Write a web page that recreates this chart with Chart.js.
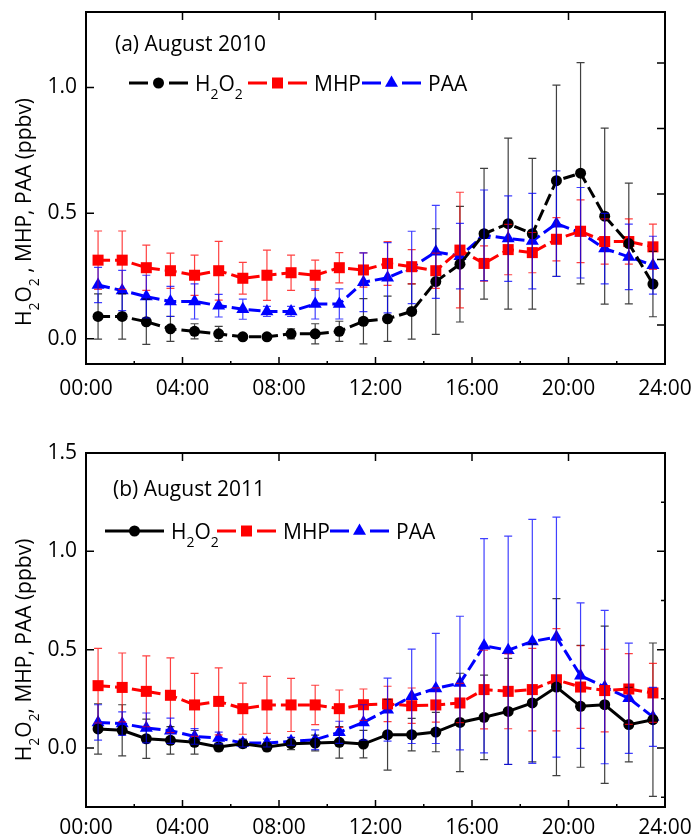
<!DOCTYPE html>
<html lang="en">
<head>
  <meta charset="utf-8">
  <title>H2O2, MHP, PAA diurnal</title>
  <style>
    body { margin: 0; background: #fff; }
    canvas { display: block; }
  </style>
</head>
<body>
<canvas id="chartA" width="695" height="410"></canvas>
<canvas id="chartB" width="695" height="429"></canvas>
<script src="https://cdn.jsdelivr.net/npm/chart.js"></script>
<script>

   // hour of day (bin centres)
   var hours = [0.5, 1.5, 2.5, 3.5, 4.5, 5.5, 6.5, 7.5, 8.5, 9.5, 10.5, 11.5,
                12.5, 13.5, 14.5, 15.5, 16.5, 17.5, 18.5, 19.5, 20.5, 21.5, 22.5, 23.5];

   // (a) August 2010
   var h2o2A    = [0.089, 0.089, 0.068, 0.040, 0.030, 0.020, 0.008, 0.008, 0.020, 0.020, 0.030, 0.070,
                   0.080, 0.109, 0.228, 0.297, 0.418, 0.458, 0.418, 0.629, 0.659, 0.488, 0.379, 0.218];
   var h2o2ErrA = [0.09, 0.09, 0.09, 0.05, 0.03, 0.03, 0.01, 0.01, 0.02, 0.04, 0.04, 0.09,
                   0.09, 0.11, 0.21, 0.23, 0.26, 0.34, 0.30, 0.38, 0.44, 0.35, 0.24, 0.13];
   var mhpA     = [0.313, 0.313, 0.283, 0.271, 0.253, 0.271, 0.241, 0.253, 0.263, 0.253, 0.283, 0.274,
                   0.300, 0.287, 0.271, 0.353, 0.300, 0.355, 0.343, 0.396, 0.428, 0.387, 0.387, 0.366];
   var mhpErrA  = [0.116, 0.116, 0.09, 0.07, 0.08, 0.117, 0.063, 0.10, 0.07, 0.06, 0.06, 0.068,
                   0.087, 0.068, 0.07, 0.23, 0.07, 0.10, 0.08, 0.086, 0.125, 0.09, 0.09, 0.09];
   var paaA     = [0.214, 0.192, 0.168, 0.149, 0.149, 0.132, 0.118, 0.109, 0.109, 0.139, 0.139, 0.225,
                   0.243, 0.284, 0.346, 0.329, 0.412, 0.399, 0.389, 0.458, 0.422, 0.359, 0.326, 0.293];
   var paaErrA  = [0.07, 0.08, 0.085, 0.06, 0.07, 0.045, 0.04, 0.02, 0.02, 0.06, 0.06, 0.117,
                   0.14, 0.144, 0.185, 0.13, 0.18, 0.17, 0.19, 0.21, 0.18, 0.14, 0.13, 0.115];

   // (b) August 2011
   var h2o2B    = [0.097, 0.090, 0.047, 0.039, 0.029, 0.005, 0.022, 0.005, 0.022, 0.025, 0.029, 0.020,
                   0.068, 0.068, 0.081, 0.130, 0.156, 0.186, 0.229, 0.310, 0.212, 0.220, 0.119, 0.144];
   var h2o2ErrB = [0.128, 0.13, 0.10, 0.07, 0.06, 0.02, 0.02, 0.02, 0.03, 0.04, 0.08, 0.07,
                   0.18, 0.083, 0.10, 0.25, 0.215, 0.27, 0.30, 0.45, 0.31, 0.40, 0.19, 0.39];
   var mhpB     = [0.317, 0.308, 0.288, 0.268, 0.219, 0.237, 0.200, 0.219, 0.219, 0.219, 0.200, 0.220,
                   0.224, 0.215, 0.219, 0.229, 0.297, 0.288, 0.297, 0.347, 0.310, 0.292, 0.300, 0.280];
   var mhpErrB  = [0.19, 0.175, 0.18, 0.19, 0.16, 0.17, 0.13, 0.145, 0.135, 0.10, 0.095, 0.08,
                   0.09, 0.09, 0.087, 0.10, 0.20, 0.19, 0.21, 0.26, 0.21, 0.21, 0.18, 0.15];
   var paaB     = [0.130, 0.124, 0.102, 0.088, 0.059, 0.051, 0.025, 0.025, 0.034, 0.042, 0.080, 0.130,
                   0.195, 0.263, 0.303, 0.330, 0.520, 0.497, 0.542, 0.564, 0.368, 0.310, 0.253, 0.158];
   var paaErrB  = [0.09, 0.06, 0.076, 0.064, 0.04, 0.03, 0.02, 0.02, 0.02, 0.05, 0.056, 0.09,
                   0.16, 0.24, 0.28, 0.34, 0.545, 0.58, 0.62, 0.61, 0.37, 0.39, 0.28, 0.15];

   var FONT = '"Open Sans", "DejaVu Sans", sans-serif';

   function pts(vals){
      return hours.map(function(h, i){ return {x: h, y: vals[i]}; });
   }

   // draws text with chemical subscripts, parts = [[text, isSub], ...]
   function chemWidth(ctx, parts, size){
      var w = 0;
      parts.forEach(function(p){
         ctx.font = (p[1] ? Math.round(size * 0.66) : size) + 'px ' + FONT;
         w += ctx.measureText(p[0]).width;
      });
      return w;
   }
   function drawChem(ctx, parts, x, y, size){
      ctx.textAlign = 'left';
      ctx.textBaseline = 'alphabetic';
      var base = y + size * 0.36;
      parts.forEach(function(p){
         ctx.font = (p[1] ? Math.round(size * 0.66) : size) + 'px ' + FONT;
         ctx.fillText(p[0], x, p[1] ? base + size * 0.42 : base);
         x += ctx.measureText(p[0]).width;
      });
   }

   function drawMarker(ctx, style, x, y, color){
      ctx.fillStyle = color;
      ctx.beginPath();
      if (style == 'circle') {
         ctx.arc(x, y, 5.5, 0, Math.PI * 2);
      } else if (style == 'rect') {
         ctx.rect(x - 5.5, y - 5.5, 11, 11);
      } else {
         ctx.moveTo(x, y - 7.5);
         ctx.lineTo(x + 6.5, y + 3.75);
         ctx.lineTo(x - 6.5, y + 3.75);
         ctx.closePath();
      }
      ctx.fill();
   }

   var errorBarPlugin = {
      id: 'errorBars',
      afterDatasetsDraw: function(chart){
         var ctx = chart.ctx, xs = chart.scales.x, ys = chart.scales.y;
         chart.data.datasets.forEach(function(ds){
            ctx.save();
            ctx.strokeStyle = ds.errorColor;
            ctx.lineWidth = 1.2;
            ds.data.forEach(function(p, i){
               var e = ds.errors[i];
               var px = xs.getPixelForValue(p.x);
               var top = ys.getPixelForValue(p.y + e);
               var bot = ys.getPixelForValue(p.y - e);
               ctx.beginPath();
               ctx.moveTo(px, top); ctx.lineTo(px, bot);
               ctx.moveTo(px - 4, top); ctx.lineTo(px + 4, top);
               ctx.moveTo(px - 4, bot); ctx.lineTo(px + 4, bot);
               ctx.stroke();
            });
            ctx.restore();
         });
      }
   };

   var framePlugin = {
      id: 'frame',
      afterDraw: function(chart){
         var ctx = chart.ctx, a = chart.chartArea, o = chart.options.plugins.frame;
         var xs = chart.scales.x, ys = chart.scales.y;
         ctx.save();
         ctx.strokeStyle = '#000';
         ctx.lineWidth = 2;
         ctx.strokeRect(a.left, a.top, a.right - a.left, a.bottom - a.top);
         ctx.lineWidth = 1.5;
         ctx.beginPath();
         xs.ticks.forEach(function(t){
            var px = xs.getPixelForValue(t.value);
            if (t.value > 0 && t.value < 24) {
               ctx.moveTo(px, a.top); ctx.lineTo(px, a.top + 8);
               ctx.moveTo(px, a.bottom); ctx.lineTo(px, a.bottom - 7);
            }
            if (t.value < 24) {
               var mx = xs.getPixelForValue(t.value + 2);
               ctx.moveTo(mx, a.bottom); ctx.lineTo(mx, a.bottom - 3);
            }
         });
         ys.ticks.forEach(function(t){
            var py = ys.getPixelForValue(t.value);
            ctx.moveTo(a.left, py); ctx.lineTo(a.left + 8, py);
         });
         var rs = chart.scales[o.rightAxis];
         rs.ticks.forEach(function(t){
            var py = rs.getPixelForValue(t.value);
            if (py > a.top + 2) { ctx.moveTo(a.right, py); ctx.lineTo(a.right - 8, py); }
            if (o.rightAxis == 'y') {
               var my = rs.getPixelForValue(t.value - 0.25);
               ctx.moveTo(a.right, my); ctx.lineTo(a.right - 4, my);
            }
         });
         ctx.stroke();

         // panel title
         ctx.fillStyle = '#000';
         ctx.font = '21px ' + FONT;
         ctx.textAlign = 'left';
         ctx.textBaseline = 'middle';
         ctx.fillText(o.title, o.titleX, o.titleY);

         // y axis title, rotated
         ctx.save();
         ctx.translate(o.yTitleX, o.yTitleY);
         ctx.rotate(-Math.PI / 2);
         var w = chemWidth(ctx, o.yTitle, 21);
         drawChem(ctx, o.yTitle, -w / 2, 0, 21);
         ctx.restore();

         // legend: line - marker - line, then label
         chart.data.datasets.forEach(function(ds, i){
            var lx = o.legendX[i], ly = o.legendY;
            ctx.strokeStyle = ds.borderColor;
            ctx.lineWidth = 3;
            ctx.beginPath();
            if (ds.borderDash && ds.borderDash.length) {
               ctx.moveTo(lx, ly); ctx.lineTo(lx + 19, ly);
               ctx.moveTo(lx + 40, ly); ctx.lineTo(lx + 59, ly);
            } else {
               ctx.moveTo(lx, ly); ctx.lineTo(lx + 59, ly);
            }
            ctx.stroke();
            drawMarker(ctx, ds.pointStyle, lx + 29.5, ly, ds.borderColor);
            ctx.fillStyle = '#000';
            drawChem(ctx, ds.legendParts, lx + 66, ly, 21);
         });
         ctx.restore();
      }
   };

   function makeDatasets(h2o2, h2o2Err, mhp, mhpErr, paa, paaErr, h2o2Dash){
      return [
         {
            label: 'H2O2', legendParts: [['H', false], ['2', true], ['O', false], ['2', true]],
            data: pts(h2o2), errors: h2o2Err, errorColor: 'rgba(0,0,0,0.75)',
            borderColor: '#000000', backgroundColor: '#000000', borderWidth: 3, borderDash: h2o2Dash,
            pointStyle: 'circle', pointRadius: 5.5, pointBorderWidth: 0
         },
         {
            label: 'MHP', legendParts: [['MHP', false]],
            data: pts(mhp), errors: mhpErr, errorColor: 'rgba(255,0,0,0.75)',
            borderColor: '#ff0000', backgroundColor: '#ff0000', borderWidth: 3, borderDash: [12, 5],
            pointStyle: 'rect', pointRadius: 7.8, pointBorderWidth: 0
         },
         {
            label: 'PAA', legendParts: [['PAA', false]],
            data: pts(paa), errors: paaErr, errorColor: 'rgba(0,0,255,0.75)',
            borderColor: '#0000ff', backgroundColor: '#0000ff', borderWidth: 3, borderDash: [12, 5],
            pointStyle: 'triangle', pointRadius: 7.5, pointBorderWidth: 0
         }
      ];
   }

   function makeChart(canvasId, datasets, yMin, yMax, top, xHeight, xPad, extraScales, frameOpts){
      var scales = {
         x: {
            type: 'linear', min: 0, max: 24,
            ticks: {
               stepSize: 4, autoSkip: false, maxRotation: 0, padding: xPad, color: '#000',
               font: { family: FONT, size: 21 },
               callback: function(v){ return (v < 10 ? '0' : '') + v + ':00'; }
            },
            grid: { display: false, drawTicks: false },
            border: { display: false },
            afterFit: function(s){ s.height = xHeight; s.paddingLeft = 0; s.paddingRight = 0; }
         },
         y: {
            min: yMin, max: yMax,
            ticks: {
               stepSize: 0.5, includeBounds: false, padding: 9, color: '#000',
               font: { family: FONT, size: 21 },
               callback: function(v){ return v.toFixed(1); }
            },
            grid: { display: false, drawTicks: false },
            border: { display: false },
            afterFit: function(s){ s.width = 86; s.paddingTop = 0; s.paddingBottom = 0; }
         }
      };
      Object.assign(scales, extraScales);
      return new Chart(document.getElementById(canvasId), {
         type: 'line',
         data: { datasets: datasets },
         options: {
            responsive: false,
            animation: false,
            events: [],
            layout: { padding: { left: 0, right: 30, top: top, bottom: 0 } },
            scales: scales,
            plugins: {
               legend: { display: false },
               tooltip: { enabled: false },
               frame: frameOpts
            }
         },
         plugins: [errorBarPlugin, framePlugin]
      });
   }

   var ChartA = makeChart('chartA',
      makeDatasets(h2o2A, h2o2ErrA, mhpA, mhpErrA, paaA, paaErrA, [12, 5]),
      -0.1, 1.3, 12, 46, 12,
      {
         y2: {
            position: 'right', min: -0.149, max: 1.195,
            ticks: { display: false, stepSize: 0.25, includeBounds: false },
            grid: { display: false, drawTicks: false },
            border: { display: false },
            afterFit: function(s){ s.width = 0; s.paddingTop = 0; s.paddingBottom = 0; }
         }
      },
      {
         rightAxis: 'y2', title: '(a) August 2010', titleX: 115, titleY: 45,
         yTitle: [['H', false], ['2', true], ['O', false], ['2', true], [' , MHP, PAA (ppbv)', false]],
         yTitleX: 23, yTitleY: 212, legendX: [129, 248, 362], legendY: 83
      });

   var ChartB = makeChart('chartB',
      makeDatasets(h2o2B, h2o2ErrB, mhpB, mhpErrB, paaB, paaErrB, []),
      -0.3, 1.5, 43, 32, 8, {},
      {
         rightAxis: 'y', title: '(b) August 2011', titleX: 113, titleY: 80,
         yTitle: [['H', false], ['2', true], ['O', false], ['2', true], [', MHP, PAA (ppbv)', false]],
         yTitleX: 23, yTitleY: 240, legendX: [105, 217, 330], legendY: 121
      });

</script>
</body>
</html>
